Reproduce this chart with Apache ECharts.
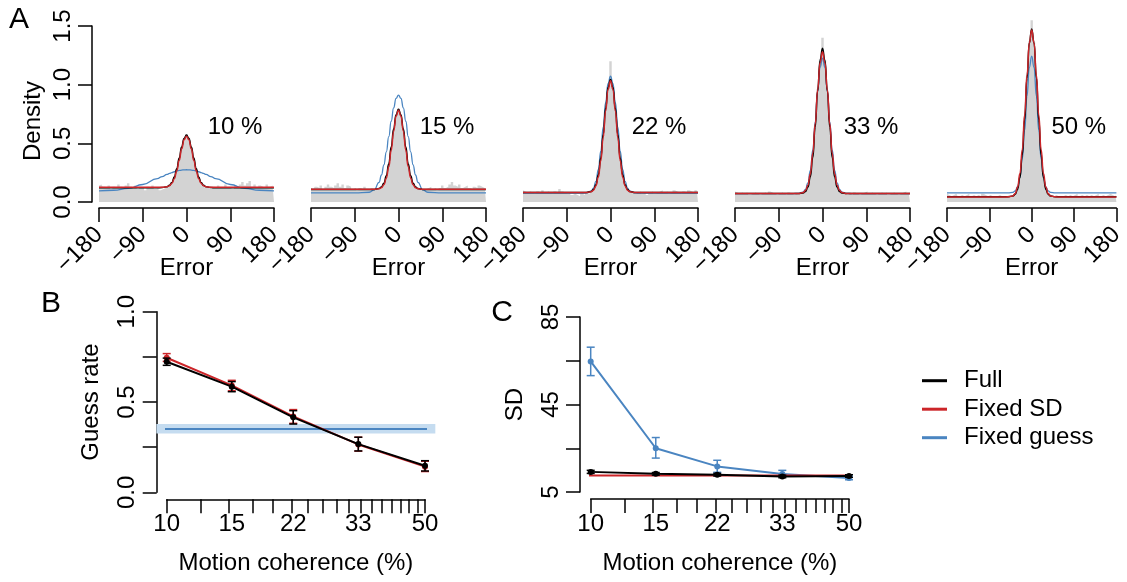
<!DOCTYPE html>
<html><head><meta charset="utf-8">
<script src="https://cdn.jsdelivr.net/npm/echarts@6/dist/echarts.min.js"></script>
<style>html,body{margin:0;padding:0;background:#fff}#c{width:1127px;height:582px}</style>
</head><body><div id="c"></div>
<script>
const FONT = '"Liberation Sans", Arial, Helvetica, sans-serif';
const BLACK = '#000000', RED = '#cc2529', BLUE = '#4a85c1', BAND = '#c5dcf0', GRAY = '#d3d3d3';

// ---------- Panel A ----------
const panelLabels = ['10 %', '15 %', '22 %', '33 %', '50 %'];
const errorTicks = [-180, -90, 0, 90, 180];
const densityTicks = [0, 0.5, 1.0, 1.5];
const histX = [-180,-175,-170,-165,-160,-155,-150,-145,-140,-135,-130,-125,-120,-115,-110,-105,-100,-95,-90,-85,-80,-75,-70,-65,-60,-55,-50,-45,
  -40,-35,-30,-25,-20,-15,-10,-5,0,5,10,15,20,25,30,35,40,
  45,50,55,60,65,70,75,80,85,90,95,100,105,110,115,120,125,130,135,140,145,150,155,160,165,170,175,180];
const hist10 = [.14,.15,.13,.12,.14,.11,.13,.12,.15,.13,.12,.14,.16,.13,.12,.14,.11,.13,.12,.10,.13,.12,.14,.11,.12,.10,.11,.12,
  .13,.14,.17,.22,.28,.37,.47,.54,.58,.55,.46,.38,.29,.21,.16,.14,.12,
  .12,.11,.13,.12,.14,.12,.13,.15,.12,.13,.11,.14,.13,.15,.17,.14,.16,.18,.13,.15,.12,.14,.13,.12,.15,.13,.14,.12];
const hist15 = [.12,.11,.13,.12,.14,.11,.13,.15,.13,.12,.14,.16,.13,.15,.12,.14,.13,.11,.12,.10,.12,.11,.13,.11,.10,.12,.11,.10,
  .11,.12,.15,.21,.31,.45,.61,.74,.80,.73,.60,.44,.30,.20,.15,.12,.11,
  .11,.10,.11,.12,.13,.11,.12,.10,.12,.14,.12,.13,.15,.17,.14,.13,.15,.12,.13,.14,.12,.11,.13,.12,.14,.13,.12,.13];
const hist22 = [.10,.09,.08,.09,.08,.07,.09,.08,.10,.08,.09,.08,.07,.09,.08,.11,.09,.08,.07,.08,.06,.07,.06,.05,.07,.06,.08,.07,
  .09,.10,.14,.23,.37,.57,.80,.98,1.20,.97,.79,.57,.36,.22,.14,.10,.09,
  .08,.07,.08,.09,.07,.08,.06,.08,.09,.07,.08,.09,.10,.08,.09,.07,.08,.10,.09,.08,.07,.09,.08,.10,.09,.08,.10,.11];
const hist33 = [.09,.08,.07,.08,.07,.08,.06,.07,.08,.07,.06,.07,.08,.07,.09,.08,.07,.06,.07,.08,.07,.06,.08,.07,.06,.07,.08,.07,
  .08,.09,.13,.22,.40,.66,.96,1.22,1.40,1.21,.95,.67,.41,.23,.13,.09,.08,
  .07,.06,.07,.06,.08,.07,.06,.07,.08,.09,.07,.08,.07,.06,.07,.08,.07,.08,.06,.07,.08,.07,.06,.07,.08,.09,.07,.08];
const hist50 = [.07,.06,.05,.06,.07,.05,.06,.05,.06,.07,.05,.06,.05,.06,.05,.07,.06,.05,.06,.05,.04,.05,.06,.05,.04,.05,.06,.05,
  .06,.07,.11,.21,.41,.72,1.07,1.37,1.55,1.36,1.05,.71,.40,.21,.11,.07,.06,
  .05,.06,.05,.04,.05,.06,.05,.06,.05,.06,.07,.05,.06,.05,.06,.05,.06,.05,.06,.07,.05,.06,.05,.06,.07,.06,.05,.07];

const curveX = [-180,-150,-120,-90,-60,-50,-40,-35,-30,-25,-20,-15,-10,-5,0,5,10,15,20,25,30,35,40,50,60,90,120,150,180];
const full10 = [.122,.122,.122,.122,.122,.123,.130,.142,.167,.213,.283,.374,.469,.542,.570,.542,.469,.374,.283,.213,.167,.142,.130,.123,.122,.122,.122,.122,.122];
const fixedSD10 = [.125,.125,.125,.125,.125,.125,.130,.139,.159,.199,.266,.355,.453,.530,.560,.530,.453,.355,.266,.199,.159,.139,.130,.125,.125,.125,.125,.125,.125];
const fixedGuess10 = [.095,.100,.116,.149,.199,.217,.235,.244,.251,.258,.264,.269,.272,.274,.275,.274,.272,.269,.264,.258,.251,.244,.235,.217,.199,.149,.116,.100,.095];
const full15 = [.106,.106,.106,.106,.106,.107,.114,.128,.160,.223,.327,.468,.622,.744,.790,.744,.622,.468,.327,.223,.160,.128,.114,.107,.106,.106,.106,.106,.106];
const fixedSD15 = [.108,.108,.108,.108,.108,.108,.112,.122,.148,.203,.300,.440,.601,.732,.783,.732,.601,.440,.300,.203,.148,.122,.112,.108,.108,.108,.108,.108,.108];
const fixedGuess15 = [.077,.077,.077,.077,.083,.103,.168,.230,.317,.428,.557,.688,.803,.883,.911,.883,.803,.688,.557,.428,.317,.230,.168,.103,.083,.077,.077,.077,.077];
const full22 = [.080,.080,.080,.080,.080,.081,.089,.106,.147,.232,.375,.576,.798,.977,1.045,.977,.798,.576,.375,.232,.147,.106,.089,.081,.080,.080,.080,.080,.080];
const fixedSD22 = [.081,.081,.081,.081,.081,.081,.087,.101,.137,.214,.351,.549,.776,.961,1.033,.961,.776,.549,.351,.214,.137,.101,.087,.081,.081,.081,.081,.081,.081];
const fixedGuess22 = [.075,.075,.075,.075,.075,.077,.092,.119,.176,.278,.434,.637,.849,1.011,1.073,1.011,.849,.637,.434,.278,.176,.119,.092,.077,.075,.075,.075,.075,.075];
const full33 = [.072,.072,.072,.072,.072,.072,.077,.090,.127,.213,.380,.639,.947,1.207,1.310,1.207,.947,.639,.380,.213,.127,.090,.077,.072,.072,.072,.072,.072,.072];
const fixedSD33 = [.072,.072,.072,.072,.072,.072,.080,.098,.143,.241,.415,.666,.954,1.188,1.280,1.188,.954,.666,.415,.241,.143,.098,.080,.072,.072,.072,.072,.072,.072];
const fixedGuess33 = [.072,.072,.072,.072,.072,.073,.085,.108,.163,.269,.444,.682,.941,1.147,1.225,1.147,.941,.682,.444,.269,.163,.108,.085,.073,.072,.072,.072,.072,.072];
const full50 = [.045,.045,.045,.045,.045,.045,.051,.065,.108,.208,.401,.700,1.056,1.356,1.475,1.356,1.056,.700,.401,.208,.108,.065,.051,.045,.045,.045,.045,.045,.045];
const fixedSD50 = [.043,.043,.043,.043,.043,.044,.052,.073,.127,.242,.447,.743,1.082,1.358,1.466,1.358,1.082,.743,.447,.242,.127,.073,.052,.044,.043,.043,.043,.043,.043];
const fixedGuess50 = [.077,.077,.077,.077,.077,.077,.082,.094,.128,.210,.368,.612,.902,1.147,1.244,1.147,.902,.612,.368,.210,.128,.094,.082,.077,.077,.077,.077,.077,.077];

const histAll = [hist10, hist15, hist22, hist33, hist50];
const fullAll = [full10, full15, full22, full33, full50];
const fixedSDAll = [fixedSD10, fixedSD15, fixedSD22, fixedSD33, fixedSD50];
const fixedGuessAll = [fixedGuess10, fixedGuess15, fixedGuess22, fixedGuess33, fixedGuess50];
const labelPos = [100, 0.64];

// ---------- Panels B & C ----------
const coherence = [10, 15, 22, 33, 50];
const coherenceTicks = [10, 12.35, 14.71, 17.06, 19.41, 21.76, 24.12, 26.47, 28.82, 31.18, 33.53, 35.88, 38.24, 40.59, 42.94, 45.29, 47.65, 50];
const guessFull = [0.723, 0.585, 0.415, 0.267, 0.147];
const guessFullLo = [0.703, 0.557, 0.378, 0.229, 0.118];
const guessFullHi = [0.743, 0.613, 0.452, 0.305, 0.175];
const guessFixedSD = [0.745, 0.592, 0.420, 0.265, 0.142];
const guessFixedSDLo = [0.725, 0.562, 0.382, 0.228, 0.115];
const guessFixedSDHi = [0.768, 0.620, 0.458, 0.305, 0.172];
const guessFixedGuess = 0.350, guessFixedGuessLo = 0.325, guessFixedGuessHi = 0.378;
const guessTicks = [0, 0.25, 0.5, 0.75, 1.0];
const guessLabels = [0, 0.5, 1.0];

const sdFull = [14.2, 13.3, 12.9, 12.1, 12.3];
const sdFullLo = [13.5, 12.7, 12.3, 11.5, 11.7];
const sdFullHi = [14.9, 13.9, 13.5, 12.7, 12.9];
const sdFixedGuess = [64.7, 25.0, 16.7, 13.2, 11.4];
const sdFixedGuessLo = [58.2, 20.5, 14.0, 12.0, 10.6];
const sdFixedGuessHi = [71.2, 29.9, 19.5, 14.9, 12.3];
const sdFixedSD = 12.6;
const sdTicks = [5, 25, 45, 65, 85];
const sdLabels = [5, 45, 85];

const legendNames = ['Full', 'Fixed SD', 'Fixed guess'];

// ---------- build ----------
const L10 = v => Math.log10(v);
const bxMin = L10(coherence[0]), bxMax = L10(coherence[coherence.length - 1]);
const bPad = 0.04 * (bxMax - bxMin);          // R-style plot region extent
const bxL = bxMin - bPad, bxR = bxMax + bPad;

const axLine = { onZero: false, lineStyle: { color: BLACK, width: 1.5 } };
const axTick = { length: 14, lineStyle: { color: BLACK, width: 1.5 } };
const txt = { fontSize: 24, color: BLACK, fontFamily: FONT };
const minus = v => String(v).replace('-', '\u2212');

const grid = [], xAxis = [], yAxis = [], series = [];
for (let k = 0; k < 5; k++) {
  grid.push({ left: 99 + 212 * k, top: 26, width: 175, height: 176 });
  xAxis.push({
    gridIndex: k, type: 'value', min: -180, max: 180, interval: 90, offset: 6,
    axisLine: axLine, axisTick: axTick, splitLine: { show: false },
    axisLabel: Object.assign({ rotate: 45, margin: 23, showMinLabel: true, showMaxLabel: true, formatter: minus }, txt),
    name: 'Error', nameLocation: 'middle', nameGap: 48, nameMoveOverlap: false, nameTextStyle: txt
  });
  yAxis.push(k === 0 ? {
    gridIndex: k, type: 'value', min: 0, max: 1.5, interval: 0.5, offset: 7,
    axisLine: Object.assign({ show: true }, axLine), axisTick: Object.assign({ show: true }, axTick), splitLine: { show: false },
    axisLabel: Object.assign({ rotate: 90, margin: 17, formatter: v => v.toFixed(1) }, txt),
    name: 'Density', nameLocation: 'middle', nameGap: 47, nameMoveOverlap: false,
    nameTextStyle: Object.assign({ padding: [0, 14, 0, 0] }, txt)
  } : { gridIndex: k, type: 'value', min: 0, max: 1.5, show: false, splitLine: { show: false } });

  const common = { xAxisIndex: k, yAxisIndex: k, symbol: 'none', clip: false, silent: true };
  series.push(Object.assign({
    type: 'line', step: 'middle', data: histX.map((x, i) => [x, histAll[k][i]]),
    lineStyle: { width: 0, opacity: 0 }, areaStyle: { color: GRAY, opacity: 1 }, z: 1
  }, common));
  series.push(Object.assign({ type: 'line', name: 'Fixed guess', smooth: 0.5, smoothMonotone: 'x',
    data: curveX.map((x, i) => [x, fixedGuessAll[k][i]]), itemStyle: { color: BLUE }, lineStyle: { color: BLUE, width: 1.3 }, z: 2 }, common));
  series.push(Object.assign({ type: 'line', name: 'Full', smooth: 0.5, smoothMonotone: 'x',
    data: curveX.map((x, i) => [x, fullAll[k][i]]), itemStyle: { color: BLACK }, lineStyle: { color: BLACK, width: 1.5 }, z: 3 }, common));
  series.push(Object.assign({ type: 'line', name: 'Fixed SD', smooth: 0.5, smoothMonotone: 'x',
    data: curveX.map((x, i) => [x, fixedSDAll[k][i]]), itemStyle: { color: RED }, lineStyle: { color: RED, width: 1.5 }, z: 4 }, common));
  series.push({ type: 'custom', xAxisIndex: k, yAxisIndex: k, silent: true, clip: false, z: 5,
    data: [labelPos.concat([k])],
    renderItem: function (params, api) {
      const p = api.coord([api.value(0), api.value(1)]);
      return { type: 'text', x: p[0], y: p[1], style: { text: panelLabels[api.value(2)], fill: BLACK,
        font: '24px ' + FONT, align: 'center', verticalAlign: 'middle' } };
    } });
}

// grid 5: B, grid 6: C
grid.push({ left: 166.7, top: 311.7, width: 258.3, height: 180.6 });
grid.push({ left: 590.7, top: 317, width: 258.3, height: 175 });
for (const gi of [5, 6]) {
  xAxis.push({
    gridIndex: gi, type: 'value', min: bxMin, max: bxMax, offset: 7,
    axisLine: axLine, splitLine: { show: false },
    axisTick: Object.assign({ customValues: coherenceTicks.map(L10) }, axTick),
    axisLabel: Object.assign({ customValues: coherence.map(L10), margin: 13,
      formatter: v => String(Math.round(Math.pow(10, v))) }, txt),
    name: 'Motion coherence (%)', nameLocation: 'middle', nameGap: 52, nameMoveOverlap: false, nameTextStyle: txt
  });
}
yAxis.push({
  gridIndex: 5, type: 'value', min: 0, max: 1, interval: 0.25, offset: 10,
  axisLine: Object.assign({ show: true }, axLine), splitLine: { show: false },
  axisTick: Object.assign({ show: true, customValues: guessTicks }, axTick),
  axisLabel: Object.assign({ customValues: guessLabels, rotate: 90, margin: 17, formatter: v => v.toFixed(1) }, txt),
  name: 'Guess rate', nameLocation: 'middle', nameGap: 53, nameMoveOverlap: false, nameTextStyle: txt
});
yAxis.push({
  gridIndex: 6, type: 'value', min: 5, max: 85, interval: 20, offset: 10.7,
  axisLine: Object.assign({ show: true }, axLine), splitLine: { show: false },
  axisTick: Object.assign({ show: true, customValues: sdTicks }, axTick),
  axisLabel: Object.assign({ customValues: sdLabels, rotate: 90, margin: 17 }, txt),
  name: 'SD', nameLocation: 'middle', nameGap: 53, nameMoveOverlap: false, nameTextStyle: txt
});

function errBars(gi, lo, hi, color, z) {
  return {
    type: 'custom', xAxisIndex: gi, yAxisIndex: gi, silent: true, clip: false, z: z,
    data: coherence.map((c, i) => [L10(c), lo[i], hi[i]]),
    encode: { x: 0, y: [1, 2] },
    renderItem: function (params, api) {
      const x = api.value(0);
      const p1 = api.coord([x, api.value(1)]), p2 = api.coord([x, api.value(2)]);
      const w = 4, st = { stroke: color, lineWidth: 1.5 };
      return { type: 'group', children: [
        { type: 'line', shape: { x1: p1[0], y1: p1[1], x2: p2[0], y2: p2[1] }, style: st },
        { type: 'line', shape: { x1: p1[0] - w, y1: p1[1], x2: p1[0] + w, y2: p1[1] }, style: st },
        { type: 'line', shape: { x1: p2[0] - w, y1: p2[1], x2: p2[0] + w, y2: p2[1] }, style: st }
      ] };
    }
  };
}
function pointLine(gi, name, vals, color, z) {
  return { type: 'line', name: name, xAxisIndex: gi, yAxisIndex: gi, silent: true, z: z,
    data: coherence.map((c, i) => [L10(c), vals[i]]),
    symbol: 'circle', symbolSize: 6, showSymbol: true,
    itemStyle: { color: color }, lineStyle: { color: color, width: 2 } };
}

// B
series.push({
  type: 'custom', xAxisIndex: 5, yAxisIndex: 5, silent: true, clip: false, z: 1,
  data: [[bxL, guessFixedGuessLo, bxR, guessFixedGuessHi]],
  renderItem: function (params, api) {
    const a = api.coord([api.value(0), api.value(3)]), b = api.coord([api.value(2), api.value(1)]);
    return { type: 'rect', shape: { x: a[0], y: a[1], width: b[0] - a[0], height: b[1] - a[1] }, style: { fill: BAND } };
  }
});
series.push({ type: 'line', name: 'Fixed guess', xAxisIndex: 5, yAxisIndex: 5, silent: true, clip: false, z: 2, symbol: 'none',
  data: [[bxL, guessFixedGuess], [bxR, guessFixedGuess]], itemStyle: { color: BLUE }, lineStyle: { color: BLUE, width: 2 } });
series.push(errBars(5, guessFixedSDLo, guessFixedSDHi, RED, 3));
series.push(pointLine(5, 'Fixed SD', guessFixedSD, RED, 4));
series.push(errBars(5, guessFullLo, guessFullHi, BLACK, 5));
series.push(pointLine(5, 'Full', guessFull, BLACK, 6));

// C
series.push(errBars(6, sdFixedGuessLo, sdFixedGuessHi, BLUE, 2));
series.push(pointLine(6, 'Fixed guess', sdFixedGuess, BLUE, 3));
series.push({ type: 'line', name: 'Fixed SD', xAxisIndex: 6, yAxisIndex: 6, silent: true, clip: false, z: 4, symbol: 'none',
  data: [[bxL, sdFixedSD], [bxR, sdFixedSD]], itemStyle: { color: RED }, lineStyle: { color: RED, width: 2 } });
series.push(errBars(6, sdFullLo, sdFullHi, BLACK, 5));
series.push(pointLine(6, 'Full', sdFull, BLACK, 6));

const option = {
  animation: false,
  backgroundColor: '#ffffff',
  textStyle: { fontFamily: FONT },
  grid, xAxis, yAxis, series,
  legend: {
    data: legendNames, orient: 'vertical', left: 917, top: 363.7,
    icon: 'rect', itemWidth: 25, itemHeight: 3, itemGap: 4.5, selectedMode: false,
    textStyle: { fontSize: 24, color: BLACK, fontFamily: FONT, lineHeight: 24, padding: [0, 0, 0, 12] }
  },
  graphic: [
    { type: 'text', style: { text: 'A', x: 19, y: 20, fontSize: 30, fontFamily: FONT, fill: BLACK, align: 'center', verticalAlign: 'middle' } },
    { type: 'text', style: { text: 'B', x: 51, y: 304, fontSize: 30, fontFamily: FONT, fill: BLACK, align: 'center', verticalAlign: 'middle' } },
    { type: 'text', style: { text: 'C', x: 502, y: 313, fontSize: 30, fontFamily: FONT, fill: BLACK, align: 'center', verticalAlign: 'middle' } }
  ]
};
const chart = echarts.init(document.getElementById('c'), null, { renderer: 'canvas' });
chart.setOption(option);
</script></body></html>
